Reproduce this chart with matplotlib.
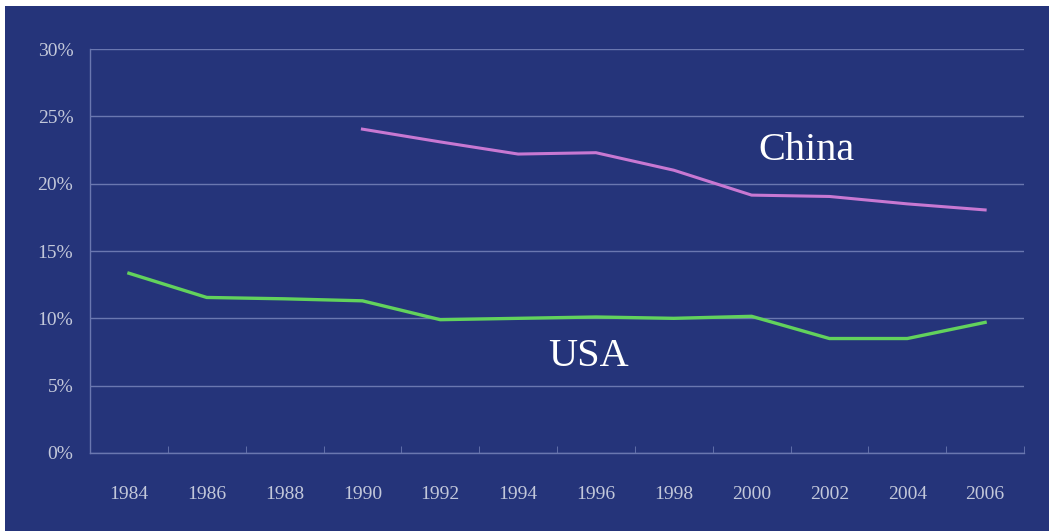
import numpy as np
import matplotlib

matplotlib.use("agg")
import matplotlib.pyplot as plt
from matplotlib.patches import Rectangle
from matplotlib.ticker import FixedLocator, FuncFormatter

plt.rcParams["font.family"] = ["Liberation Serif", "DejaVu Serif"]

# data (percent)
years = ["1984", "1986", "1988", "1990", "1992", "1994",
         "1996", "1998", "2000", "2002", "2004", "2006"]
usa = [13.35, 11.55, 11.45, 11.3, 9.9, 10.0, 10.1, 10.0, 10.15, 8.5, 8.5, 9.7]
china = [np.nan, np.nan, np.nan, 24.05, 23.1, 22.2, 22.3, 21.0, 19.15, 19.05, 18.5, 18.05]

bg_col = "#25347a"
grid_col = "#6a77b0"
txt_col = "#c3c8da"

fig = plt.figure(figsize=(10.49, 5.31), dpi=100, facecolor="white")
# blue slide panel, slight white margin at top/left like the scan
fig.patches.append(Rectangle((0.005, 0.0), 0.995, 0.989, transform=fig.transFigure,
                             facecolor=bg_col, edgecolor="none", zorder=-10))

ax = fig.add_axes([0.0858, 0.1469, 0.8904, 0.7608])
ax.set_facecolor(bg_col)
ax.patch.set_alpha(0.0)

x_pos = np.arange(len(years))
ax.plot(x_pos, usa, color="#62d25c", lw=2.4, solid_joinstyle="round", zorder=3)
ax.plot(x_pos, china, color="#c878d2", lw=2.2, solid_joinstyle="round", zorder=3)

ax.set_xlim(-0.5, len(years) - 0.5)
ax.set_ylim(0, 30)

ax.set_yticks(np.arange(0, 31, 5))
ax.yaxis.set_major_formatter(FuncFormatter(lambda v, p: "%d%%" % v))
ax.set_xticks(x_pos)
ax.set_xticklabels(years)
ax.xaxis.set_minor_locator(FixedLocator(np.arange(-0.5, len(years), 1.0)))

ax.grid(True, axis="y", color=grid_col, lw=1.0)
ax.set_axisbelow(True)
for side in ["top", "right"]:
    ax.spines[side].set_visible(False)
for side in ["left", "bottom"]:
    ax.spines[side].set_color(grid_col)
    ax.spines[side].set_linewidth(1.0)

ax.tick_params(axis="x", which="major", length=0, pad=24, labelsize=14, labelcolor=txt_col)
ax.tick_params(axis="x", which="minor", length=5, direction="in", color=grid_col)
ax.tick_params(axis="y", length=0, pad=12, labelsize=14, labelcolor=txt_col)

ax.text(8.70, 22.45, "China", color="white", fontsize=29, ha="center", va="center")
ax.text(5.90, 7.15, "USA", color="white", fontsize=29, ha="center", va="center")

plt.savefig("out.png", dpi=100, facecolor=fig.get_facecolor())
plt.close(fig)
